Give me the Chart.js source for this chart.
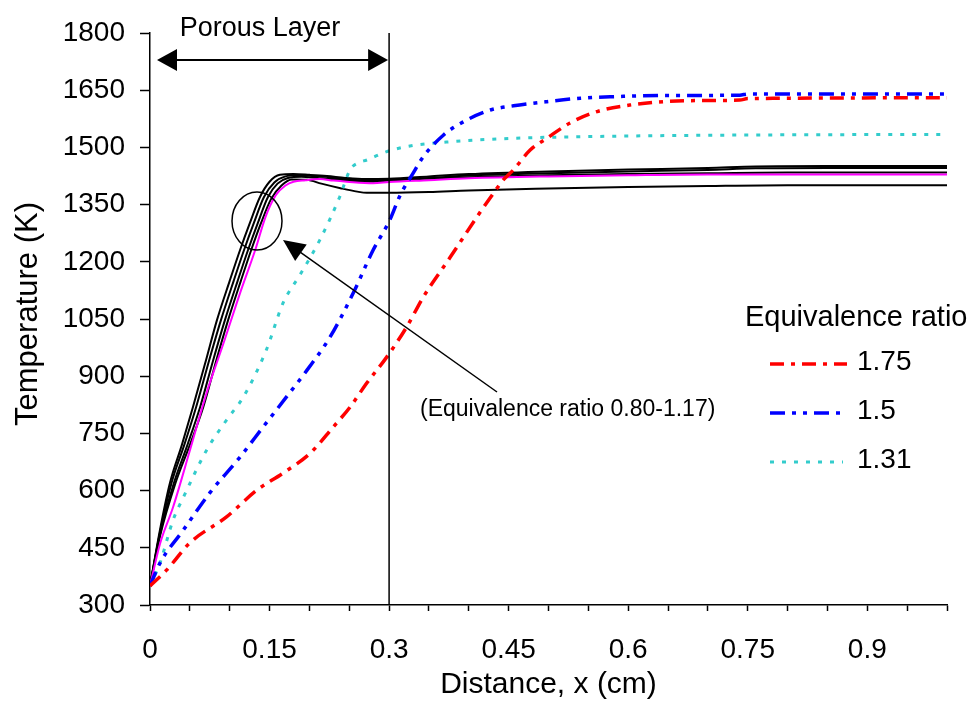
<!DOCTYPE html>
<html>
<head>
<meta charset="utf-8">
<script src="https://cdn.jsdelivr.net/npm/chart.js@4.4.1/dist/chart.umd.min.js"></script>
<style>
  body { margin: 0; background: #fff; }
  #wrap { width: 977px; height: 702px; }
</style>
</head>
<body>
<div id="wrap"><canvas id="tempChart" width="977" height="702"></canvas></div>
<script>
// Distance (cm) and temperature (K)
const xRed = [0, 0.021, 0.05, 0.096, 0.134, 0.167, 0.201, 0.23, 0.251, 0.272, 0.297, 0.322, 0.343, 0.377, 0.41, 0.431, 0.443, 0.456, 0.477, 0.498, 0.527, 0.561, 0.602, 0.644, 0.7, 0.74, 0.75, 1.0];
const tRed = [350, 392, 463, 531, 601, 646, 698, 767, 819, 882, 950, 1029, 1108, 1213, 1317, 1380, 1414, 1441, 1493, 1524, 1564, 1594, 1611, 1620, 1623, 1624, 1628, 1630];

const xBlue = [0, 0.0125, 0.042, 0.075, 0.113, 0.142, 0.171, 0.197, 0.226, 0.255, 0.28, 0.301, 0.314, 0.33, 0.343, 0.368, 0.393, 0.427, 0.456, 0.498, 0.54, 0.581, 0.644, 0.74, 0.75, 1.0];
const tBlue = [350, 410, 497, 594, 688, 767, 845, 916, 1003, 1118, 1231, 1310, 1375, 1432, 1476, 1532, 1567, 1598, 1609, 1620, 1629, 1633, 1636, 1637, 1640, 1640];

const xCyan = [0, 0.0125, 0.029, 0.042, 0.071, 0.096, 0.117, 0.146, 0.167, 0.188, 0.213, 0.238, 0.251, 0.262, 0.272, 0.297, 0.33, 0.372, 0.456, 0.54, 0.65, 0.8, 1.0];
const tCyan = [350, 410, 523, 583, 706, 785, 845, 969, 1092, 1165, 1257, 1370, 1441, 1460, 1467, 1489, 1505, 1514, 1524, 1528, 1531, 1533, 1534];

const xBlack1 = [0, 0.0125, 0.025, 0.04, 0.054, 0.07, 0.084, 0.1, 0.113, 0.125, 0.138, 0.15, 0.163, 0.18, 0.2, 0.222, 0.245, 0.27, 0.3, 0.35, 0.4, 0.5, 0.6, 0.7, 0.76, 0.85, 1.0];
const tBlack1 = [350, 497, 620, 720, 820, 940, 1047, 1150, 1231, 1300, 1370, 1410, 1428, 1430, 1428, 1425, 1420, 1417, 1418, 1424, 1430, 1437, 1442, 1446, 1450, 1451, 1451];

const xBlack2 = [0, 0.0125, 0.027, 0.043, 0.058, 0.074, 0.089, 0.105, 0.118, 0.13, 0.143, 0.156, 0.17, 0.185, 0.205, 0.225, 0.25, 0.275, 0.3, 0.35, 0.4, 0.5, 0.6, 0.7, 0.76, 0.85, 1.0];
const tBlack2 = [350, 490, 620, 720, 820, 940, 1047, 1150, 1231, 1300, 1370, 1408, 1424, 1427, 1425, 1422, 1416, 1413, 1415, 1420, 1426, 1432, 1437, 1441, 1445, 1446, 1446];

const xBlack3 = [0, 0.0125, 0.03, 0.047, 0.063, 0.079, 0.094, 0.11, 0.123, 0.135, 0.148, 0.16, 0.173, 0.19, 0.21, 0.23, 0.255, 0.28, 0.3, 0.35, 0.4, 0.5, 0.6, 0.7, 0.8, 1.0];
const tBlack3 = [350, 485, 620, 720, 820, 940, 1047, 1150, 1231, 1300, 1370, 1405, 1420, 1423, 1420, 1417, 1412, 1410, 1413, 1418, 1422, 1427, 1430, 1432, 1434, 1434];

const xBlack4 = [0, 0.0125, 0.032, 0.05, 0.067, 0.083, 0.098, 0.114, 0.127, 0.139, 0.152, 0.165, 0.178, 0.197, 0.215, 0.239, 0.26, 0.272, 0.3, 0.35, 0.4, 0.5, 0.6, 0.7, 0.8, 1.0];
const tBlack4 = [350, 480, 620, 720, 820, 940, 1047, 1150, 1231, 1300, 1365, 1400, 1416, 1415, 1405, 1393, 1384, 1381, 1381, 1383, 1387, 1392, 1396, 1399, 1401, 1401];

const xPink = [0, 0.0125, 0.029, 0.05, 0.071, 0.092, 0.113, 0.132, 0.145, 0.158, 0.17, 0.18, 0.195, 0.213, 0.23, 0.247, 0.28, 0.3, 0.35, 0.4, 0.5, 0.6, 0.7, 0.8, 1.0];
const tPink = [350, 460, 557, 705, 856, 985, 1118, 1231, 1318, 1375, 1400, 1410, 1414, 1417, 1413, 1410, 1406, 1409, 1414, 1419, 1424, 1427, 1429, 1429, 1429];

const xTickLabels = ['0', '0.15', '0.3', '0.45', '0.6', '0.75', '0.9'];
const legendRatios = ['1.75', '1.5', '1.31'];

const FONT = "'Liberation Sans', Arial, sans-serif";
Chart.defaults.font.family = FONT;

function pts(xs, ys) {
    return xs.map((x, i) => ({ x: x, y: ys[i] }));
}

function line(xs, ys, color, width, dash) {
    return {
        data: pts(xs, ys),
        borderColor: color,
        borderWidth: width,
        borderDash: dash || [],
        pointRadius: 0,
        fill: false,
        cubicInterpolationMode: 'monotone'
    };
}

const redDash = [14, 7, 4, 7];
const blueDash = [15, 7, 4, 7, 4, 7];
const cyanDash = [4, 8];

// Надписи, стрелки и легенда поверх графика
const annotations = {
    id: 'annotations',
    afterDraw(chart) {
        const ctx = chart.ctx;
        const xs = chart.scales.x;
        const x03 = xs.getPixelForValue(0.3);
        ctx.save();
        ctx.fillStyle = '#000';
        ctx.strokeStyle = '#000';

        // vertical line at end of porous layer
        ctx.lineWidth = 1.5;
        ctx.beginPath();
        ctx.moveTo(x03, chart.chartArea.top);
        ctx.lineTo(x03, chart.chartArea.bottom);
        ctx.stroke();

        // double arrow
        const ay = 60, aL = 157, aR = x03 - 1;
        ctx.lineWidth = 2;
        ctx.beginPath();
        ctx.moveTo(aL + 18, ay);
        ctx.lineTo(aR - 18, ay);
        ctx.stroke();
        ctx.beginPath();
        ctx.moveTo(aL, ay); ctx.lineTo(aL + 20, ay - 11); ctx.lineTo(aL + 20, ay + 11); ctx.closePath();
        ctx.fill();
        ctx.beginPath();
        ctx.moveTo(aR, ay); ctx.lineTo(aR - 20, ay - 11); ctx.lineTo(aR - 20, ay + 11); ctx.closePath();
        ctx.fill();

        ctx.font = '27px ' + FONT;
        ctx.textAlign = 'center';
        ctx.textBaseline = 'alphabetic';
        ctx.fillText('Porous Layer', 260, 36);

        // circle around the curves
        ctx.lineWidth = 1.5;
        ctx.beginPath();
        ctx.ellipse(257, 221, 25, 29, 0, 0, Math.PI * 2);
        ctx.stroke();

        // pointer arrow
        const tipX = 283, tipY = 240, endX = 497, endY = 392;
        const ang = Math.atan2(endY - tipY, endX - tipX);
        ctx.lineWidth = 1.5;
        ctx.beginPath();
        ctx.moveTo(tipX + 15 * Math.cos(ang), tipY + 15 * Math.sin(ang));
        ctx.lineTo(endX, endY);
        ctx.stroke();
        ctx.beginPath();
        ctx.moveTo(tipX, tipY);
        ctx.lineTo(tipX + 22 * Math.cos(ang) - 10 * Math.sin(ang), tipY + 22 * Math.sin(ang) + 10 * Math.cos(ang));
        ctx.lineTo(tipX + 22 * Math.cos(ang) + 10 * Math.sin(ang), tipY + 22 * Math.sin(ang) - 10 * Math.cos(ang));
        ctx.closePath();
        ctx.fill();

        ctx.font = '23px ' + FONT;
        ctx.textAlign = 'left';
        ctx.fillText('(Equivalence ratio 0.80-1.17)', 420, 416);

        // axis titles
        ctx.font = '30px ' + FONT;
        ctx.textAlign = 'center';
        ctx.textBaseline = 'middle';
        ctx.fillText('Distance, x (cm)', (chart.chartArea.left + chart.chartArea.right) / 2, 685);
        ctx.save();
        ctx.translate(28, (chart.chartArea.top + chart.chartArea.bottom) / 2 - 5);
        ctx.rotate(-Math.PI / 2);
        ctx.font = '31px ' + FONT;
        ctx.fillText('Temperature (K)', 0, 0);
        ctx.restore();

        // legend
        ctx.textAlign = 'left';
        ctx.textBaseline = 'alphabetic';
        ctx.font = '29px ' + FONT;
        ctx.fillText('Equivalence ratio', 745, 326);
        const ds = chart.data.datasets;
        const rows = [364, 413, 462];
        const ends = [847, 840, 843];
        ctx.font = '28px ' + FONT;
        legendRatios.forEach((lbl, i) => {
            const d = ds[i];
            ctx.save();
            ctx.strokeStyle = d.borderColor;
            ctx.lineWidth = d.borderWidth;
            ctx.setLineDash(d.borderDash);
            ctx.beginPath();
            ctx.moveTo(770, rows[i]);
            ctx.lineTo(ends[i], rows[i]);
            ctx.stroke();
            ctx.restore();
            ctx.textBaseline = 'middle';
            ctx.fillText(lbl, 857, rows[i] - 2);
        });
        ctx.restore();
    }
};

new Chart(document.getElementById('tempChart'), {
    type: 'line',
    data: {
        datasets: [
            line(xRed, tRed, '#FF0000', 3.5, redDash),
            line(xBlue, tBlue, '#0000FF', 3.5, blueDash),
            line(xCyan, tCyan, '#33CCCC', 3, cyanDash),
            line(xPink, tPink, '#FF00FF', 2),
            line(xBlack1, tBlack1, '#000000', 2),
            line(xBlack2, tBlack2, '#000000', 2),
            line(xBlack3, tBlack3, '#000000', 2),
            line(xBlack4, tBlack4, '#000000', 2)
        ]
    },
    options: {
        responsive: false,
        animation: false,
        layout: { padding: { top: 33, right: 30, left: 0, bottom: 0 } },
        plugins: {
            legend: { display: false },
            tooltip: { enabled: false }
        },
        scales: {
            x: {
                type: 'linear',
                min: 0,
                max: 1,
                afterFit: s => { s.height = 97; },
                border: { color: '#000', width: 1.5 },
                grid: { drawOnChartArea: false, color: '#000', tickLength: 6, tickWidth: 1.5 },
                ticks: {
                    stepSize: 0.05,
                    autoSkip: false,
                    maxRotation: 0,
                    color: '#000',
                    padding: 22,
                    font: { size: 28 },
                    callback: v => {
                        const k = Math.round(v / 0.05);
                        return k % 3 === 0 && xTickLabels[k / 3] !== undefined ? xTickLabels[k / 3] : '';
                    }
                }
            },
            y: {
                min: 300,
                max: 1800,
                afterFit: s => { s.width = 150; },
                border: { color: '#000', width: 1.5 },
                grid: { drawOnChartArea: false, color: '#000', tickLength: 10, tickWidth: 1.5 },
                ticks: {
                    stepSize: 150,
                    color: '#000',
                    padding: 15,
                    font: { size: 28 },
                    callback: v => String(v)
                }
            }
        }
    },
    plugins: [annotations]
});
</script>
</body>
</html>
